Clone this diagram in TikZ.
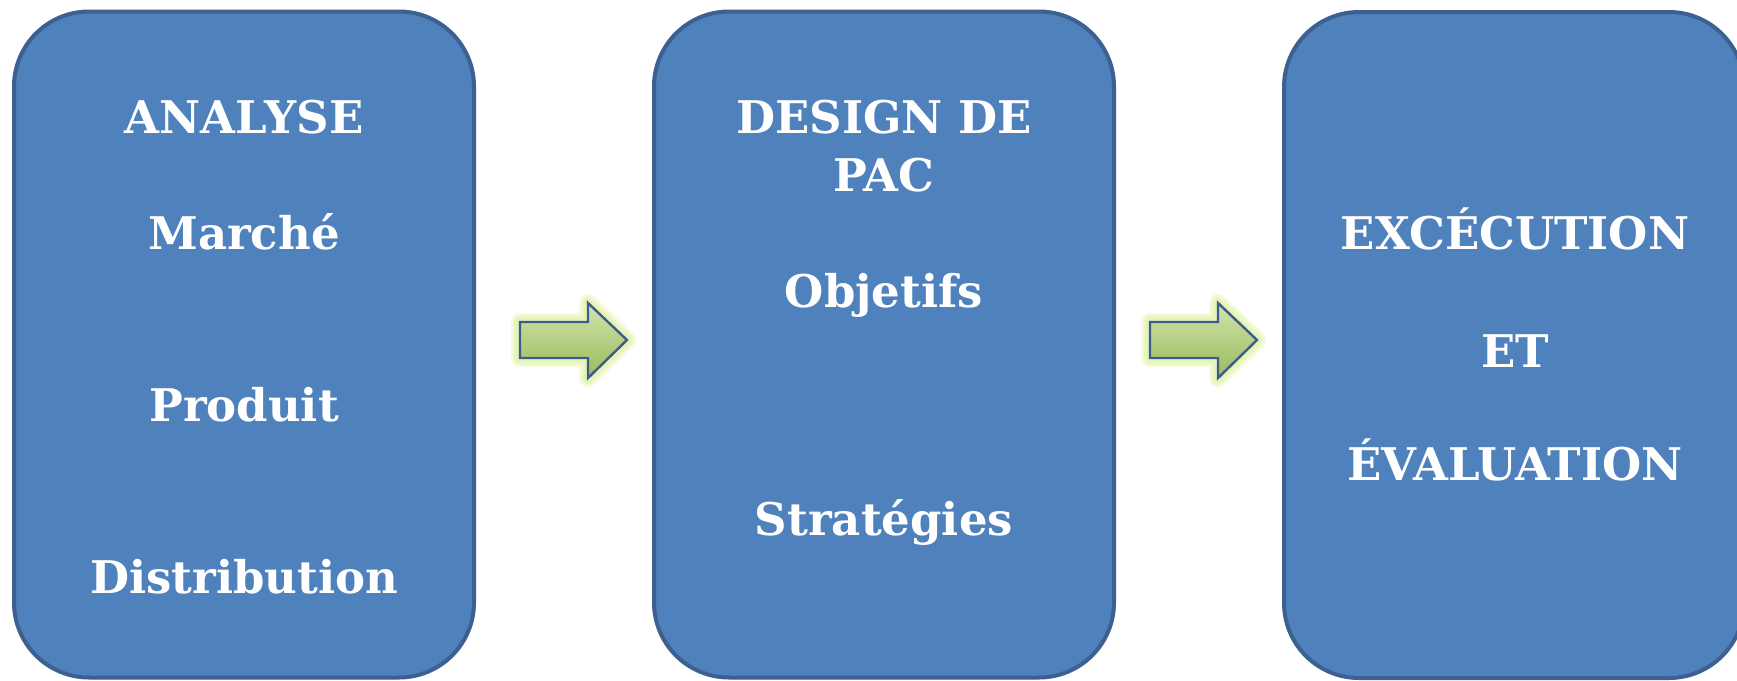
\documentclass[tikz,border=0pt]{standalone}
\usepackage{fontspec}
\setmainfont{DejaVu Serif}
\usetikzlibrary{shadings}
\definecolor{boxfill}{HTML}{4F81BD}
\definecolor{boxline}{HTML}{3C6190}
\definecolor{arrline}{HTML}{3F5B8C}
\definecolor{arrlight}{HTML}{D2E3AE}
\definecolor{arrdark}{HTML}{9BBB59}
\definecolor{glow}{HTML}{D8EE90}
\tikzset{
  box/.style={draw=boxline, line width=4pt, fill=boxfill, rounded corners=75pt,
    minimum width=460pt, minimum height=666pt, inner sep=0pt},
  lbl/.style={text=white, font=\fontsize{45}{50}\selectfont\bfseries, anchor=base, inner sep=0pt},
  blockarrow/.style={draw=arrline, line width=2.4pt, line join=miter,
    top color=arrlight, bottom color=arrdark},
  arrowglow/.style={draw=glow, line width=#1, line join=round, opacity=0.3}
}
\begin{document}
\begin{tikzpicture}[x=1pt,y=-1pt]
\useasboundingbox (0,0) rectangle (1737,680);
\node[box] (b1) at (244,344.5) {};
\node[box] (b2) at (884,344.5) {};
\node[box] (b3) at (1514,345) {};
% box 1 texts
\node[lbl] (t11) at (244,133) {ANALYSE};
\node[lbl] (t12) at (244,249) {Marché};
\node[lbl] (t13) at (244,421) {Produit};
\node[lbl] (t14) at (244,593) {Distribution};
% box 2 texts
\node[lbl] (t21) at (884,133) {DESIGN DE};
\node[lbl] (t22) at (884,191) {PAC};
\node[lbl] (t23) at (884,307) {Objetifs};
\node[lbl] (t24) at (884,535) {Stratégies};
% box 3 texts
\node[lbl] (t31) at (1515,249) {EXCÉCUTION};
\node[lbl] (t32) at (1515,367) {ET};
\node[lbl] (t33) at (1515,480) {ÉVALUATION};
% arrows
\foreach \n/\x in {a1/520,a2/1150}{
  \coordinate (\n) at (\x,340);
  \foreach \w in {18,13,8}{
    \path[arrowglow=\w pt] (\x,322) -- (\x+68,322) -- (\x+68,303) -- (\x+107,340) -- (\x+68,378) -- (\x+68,358) -- (\x,358) -- cycle;
  }
  \path[blockarrow] (\x,322) -- (\x+68,322) -- (\x+68,303) -- (\x+107,340) -- (\x+68,378) -- (\x+68,358) -- (\x,358) -- cycle;
}
\end{tikzpicture}
\end{document}
